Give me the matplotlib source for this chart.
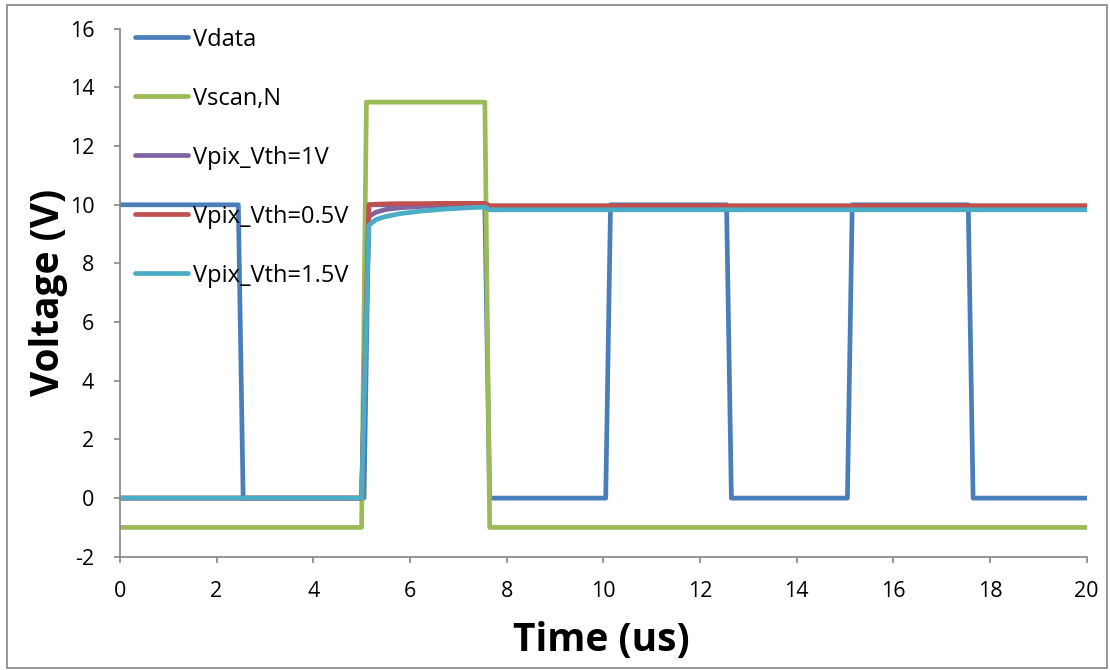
import numpy as np
import matplotlib
matplotlib.use('Agg')
import matplotlib.pyplot as plt
from matplotlib.patches import Rectangle

# Vdata: 10 V / 0 V pulse train
t_data = [0, 2.45, 2.55, 5.05, 5.15, 7.55, 7.65, 10.05, 10.15, 12.55, 12.65, 15.05, 15.15, 17.55, 17.65, 20]
v_data = [10, 10, 0, 0, 10, 10, 0, 0, 10, 10, 0, 0, 10, 10, 0, 0]

# Vscan,N
t_scan = [0, 5.0, 5.1, 7.55, 7.65, 20]
v_scan = [-1, -1, 13.5, 13.5, -1, -1]

# Vpix for the three Vth values
t_pix = [0, 5.0, 5.15, 5.3, 5.5, 5.8, 6.2, 6.7, 7.2, 7.55, 7.65, 20]
v_pix_1 = [0, 0, 9.6, 9.75, 9.84, 9.9, 9.94, 9.97, 9.98, 9.99, 9.9, 9.9]
v_pix_05 = [0, 0, 10.0, 10.02, 10.03, 10.04, 10.04, 10.05, 10.05, 10.05, 9.97, 9.97]
v_pix_15 = [0, 0, 9.3, 9.5, 9.6, 9.7, 9.78, 9.85, 9.9, 9.92, 9.83, 9.83]

series = [
    (t_data, v_data, 'Vdata', '#4A7EBB'),
    (t_scan, v_scan, 'Vscan,N', '#9BBB59'),
    (t_pix, v_pix_1, 'Vpix_Vth=1V', '#8064A2'),
    (t_pix, v_pix_05, 'Vpix_Vth=0.5V', '#C0504D'),
    (t_pix, v_pix_15, 'Vpix_Vth=1.5V', '#4BACC6'),
]

plt.rcParams['font.family'] = ['Open Sans', 'DejaVu Sans']
plt.rcParams['axes.unicode_minus'] = False

fig = plt.figure(figsize=(11.1, 6.7), dpi=100)
ax = fig.add_axes([0.108, 0.169, 0.871, 0.788])

for t, v, name, col in series:
    ax.plot(t, v, color=col, lw=3.4, label=name,
            solid_capstyle='round', solid_joinstyle='round')

ax.set_xlim(0, 20)
ax.set_ylim(-2, 16)
ax.set_xticks(np.arange(0, 21, 2))
ax.set_yticks(np.arange(-2, 17, 2))

for s in ['top', 'right']:
    ax.spines[s].set_visible(False)
for s in ['left', 'bottom']:
    ax.spines[s].set_color('#868686')
    ax.spines[s].set_linewidth(1.2)
ax.tick_params(direction='out', length=4.5, width=1.2, color='#868686',
               labelsize=15.5)
ax.tick_params(axis='y', pad=14)
ax.tick_params(axis='x', pad=13)

ax.set_xlabel('Time (us)', fontsize=28, fontweight='bold')
ax.set_ylabel('Voltage (V)', fontsize=28, fontweight='bold')
ax.xaxis.set_label_coords(0.498, -0.122)
ax.yaxis.set_label_coords(-0.054, 0.5)

ax.legend(loc='upper left', bbox_to_anchor=(0.0155, 1.002), frameon=False,
          fontsize=17, labelspacing=1.48, handlelength=2.25,
          handletextpad=0.2, borderaxespad=0, borderpad=0)

fig.patches.append(Rectangle((0.006, 0.003), 0.991, 0.989, transform=fig.transFigure,
                             fill=False, edgecolor='#868686', lw=1.2))

fig.savefig('out.png', dpi=100)
